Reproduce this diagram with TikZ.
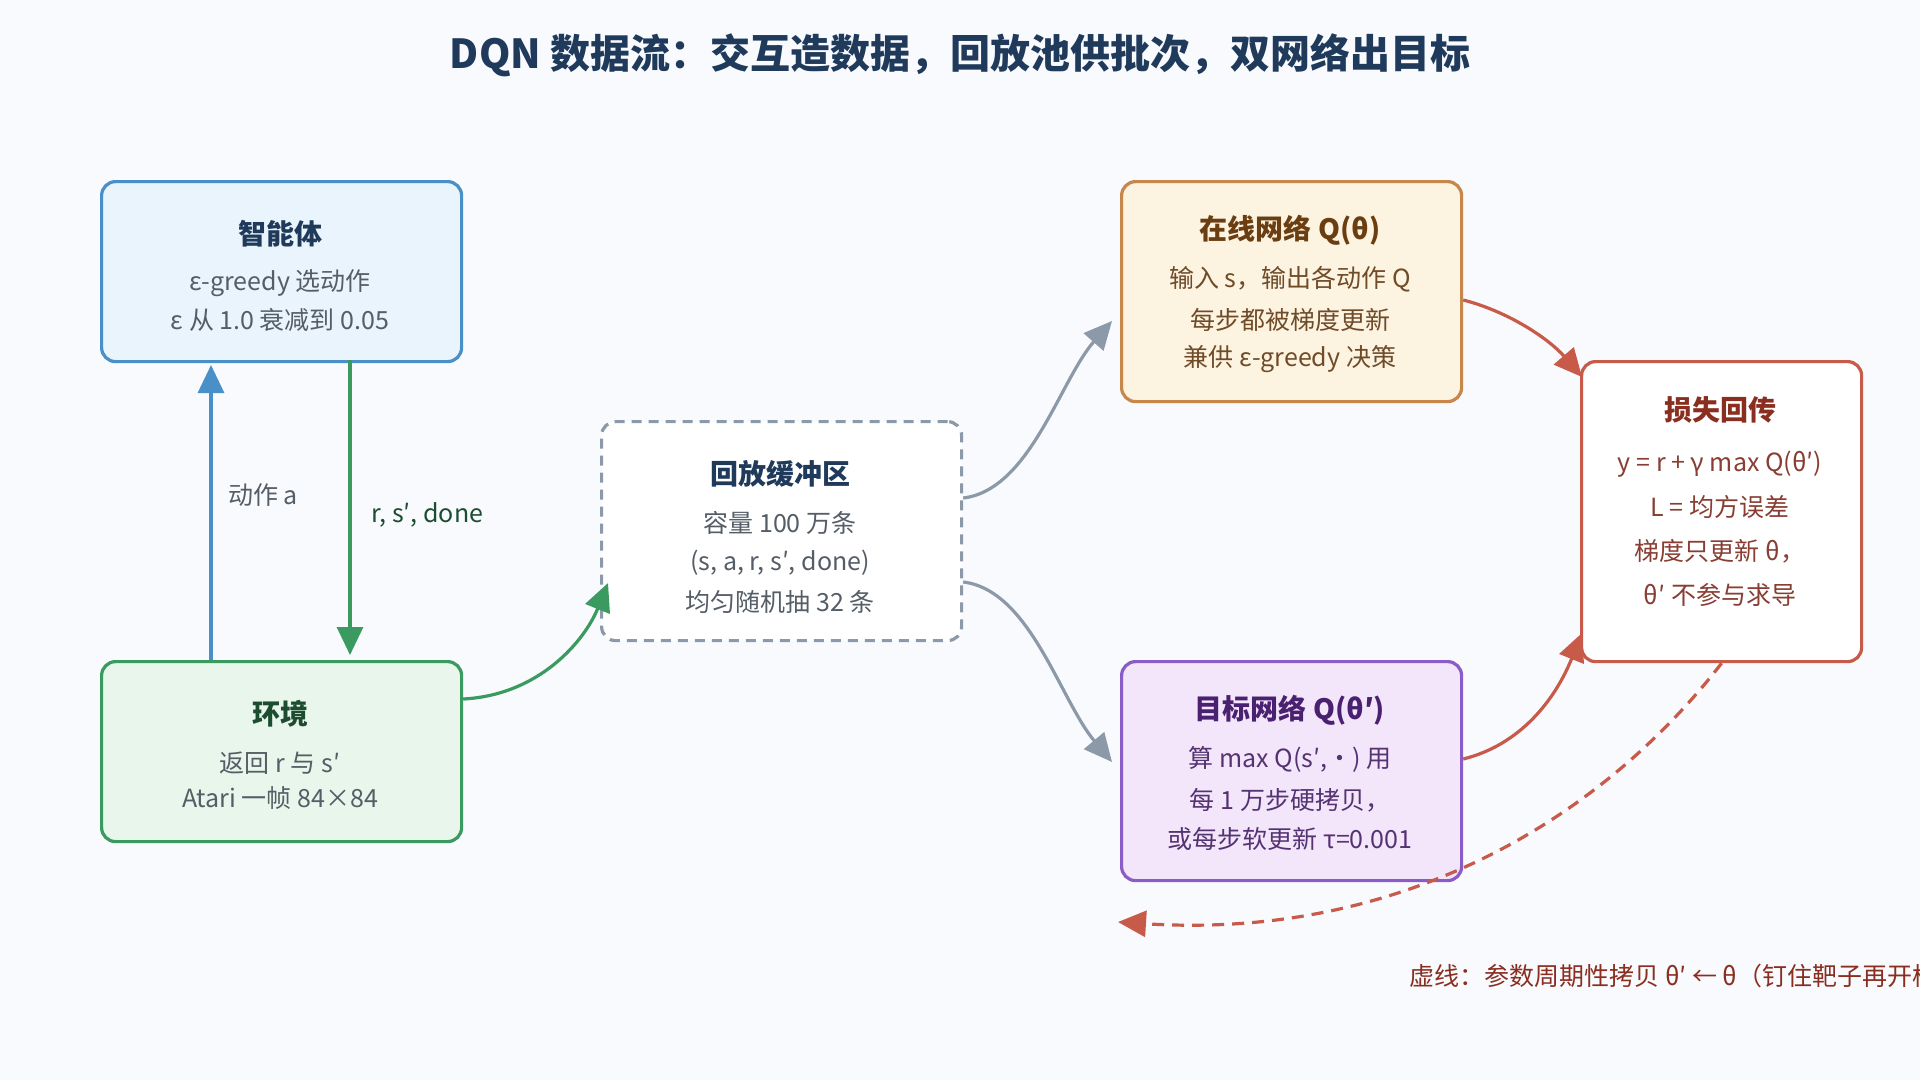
\documentclass[tikz,border=0pt]{standalone}
\usepackage{fontspec}
\setmainfont{Noto Sans CJK SC}
\usetikzlibrary{arrows.meta}
\definecolor{bg}{HTML}{F8FAFE}
\definecolor{ttl}{HTML}{1F3A5A}
\definecolor{agB}{HTML}{4A90C8}\definecolor{agF}{HTML}{EAF4FC}
\definecolor{enB}{HTML}{3A9A60}\definecolor{enF}{HTML}{E8F6EC}
\definecolor{rpB}{HTML}{8C99A8}
\definecolor{onB}{HTML}{C8874A}\definecolor{onF}{HTML}{FDF3E1}\definecolor{onT}{HTML}{6B3E12}
\definecolor{tgB}{HTML}{8A5CC8}\definecolor{tgF}{HTML}{F3E6FB}\definecolor{tgT}{HTML}{4A2070}
\definecolor{lsB}{HTML}{C85A4A}\definecolor{lsT}{HTML}{8A2E20}
\definecolor{body}{HTML}{555D66}
\begin{document}
\begin{tikzpicture}[x=1pt,y=-1pt,
 box/.style={draw,line width=3.2pt,rounded corners=14pt,anchor=north west,inner sep=0pt},
 ht/.style={font=\bfseries\fontsize{28}{30}\selectfont},
 bt/.style={font=\fontsize{25}{28}\selectfont,text=body},
 arr/.style={line width=3.2pt,-{Triangle[length=28pt,width=26pt]}},
 gar/.style={arr,color=rpB},
 rar/.style={arr,color=lsB}]
\clip (0,0) rectangle (1920,1080);
\fill[bg] (0,0) rectangle (1920,1080);
\node[font=\bfseries\fontsize{40}{44}\selectfont,text=ttl] (title) at (960,55) {DQN 数据流：交互造数据，回放池供批次，双网络出目标};
% boxes
\node[box,draw=agB,fill=agF,minimum width=360pt,minimum height=180pt] (ag) at (100,180) {};
\node[box,draw=enB,fill=enF,minimum width=360pt,minimum height=180pt] (en) at (100,660) {};
\node[box,draw=rpB,fill=white,dashed,dash pattern=on 10pt off 7pt,minimum width=360pt,minimum height=219pt] (rp) at (600,420) {};
\node[box,draw=onB,fill=onF,minimum width=340pt,minimum height=220pt] (on) at (1120,180) {};
\node[box,draw=tgB,fill=tgF,minimum width=340pt,minimum height=219pt] (tg) at (1120,660) {};
\node[box,draw=lsB,fill=white,minimum width=280pt,minimum height=300pt] (ls) at (1580,360) {};
% texts
\node[ht,text=ttl] (agt) at (280,234) {智能体};
\node[bt] (ag1) at (280,283) {ε-greedy 选动作};
\node[bt] (ag2) at (280,320) {ε 从 1.0 衰减到 0.05};
\node[ht,text=enB!50!black] (ent) at (280,714) {环境};
\node[bt] (en1) at (280,763) {返回 r 与 s′};
\node[bt] (en2) at (280,798) {Atari 一帧 84×84};
\node[ht,text=ttl] (rpt) at (780,474) {回放缓冲区};
\node[bt] (rp1) at (780,523) {容量 100 万条};
\node[bt] (rp2) at (780,563) {(s, a, r, s′, done)};
\node[bt] (rp3) at (780,602) {均匀随机抽 32 条};
\node[ht,text=onT] (ont) at (1290,230) {在线网络 Q(θ)};
\node[bt,text=onT!80!gray] (on1) at (1290,279) {输入 s，输出各动作 Q};
\node[bt,text=onT!80!gray] (on2) at (1290,320) {每步都被梯度更新};
\node[bt,text=onT!80!gray] (on3) at (1290,359) {兼供 ε-greedy 决策};
\node[ht,text=tgT] (tgt) at (1290,710) {目标网络 Q(θ′)};
\node[bt,text=tgT!80!gray] (tg1) at (1290,759) {算 max Q(s′,·) 用};
\node[bt,text=tgT!80!gray] (tg2) at (1290,800) {每 1 万步硬拷贝，};
\node[bt,text=tgT!80!gray] (tg3) at (1290,839) {或每步软更新 τ=0.001};
\node[ht,text=lsT] (lst) at (1720,410) {损失回传};
\node[bt,text=lsT!80!gray] (ls1) at (1720,464) {y = r + γ max Q(θ′)};
\node[bt,text=lsT!80!gray] (ls2) at (1720,507) {L = 均方误差};
\node[bt,text=lsT!80!gray] (ls3) at (1720,551) {梯度只更新 θ，};
\node[bt,text=lsT!80!gray] (ls4) at (1720,595) {θ′ 不参与求导};
% connectors
\coordinate (a1) at (211,660); \coordinate (a2) at (211,365);
\draw[arr,color=agB] (a1) -- (a2);
\node[bt] (la) at (263,495) {动作 a};
\coordinate (b1) at (350,360); \coordinate (b2) at (350,655);
\draw[arr,color=enB] (b1) -- (b2);
\node[bt,text=enB!50!black,anchor=west] (lb) at (368,515) {r, s′, done};
\draw[arr,color=enB] (en.east|-0,699) .. controls (540,695) and (585,640) .. (608,583);
\draw[gar] (rp.east|-0,498) .. controls (1030,490) and (1060,380) .. (1112,321);
\draw[gar] (rp.east|-0,582) .. controls (1030,590) and (1060,700) .. (1112,762);
\draw[rar] (on.east|-0,300) .. controls (1510,312) and (1550,340) .. (1582,377);
\draw[rar] (tg.east|-0,759) .. controls (1520,745) and (1555,700) .. (1582,633);
\coordinate (d2) at (1118,922);
\draw[lsB,line width=3.2pt,dash pattern=on 12pt off 8pt,-{Triangle[length=28pt,width=26pt]}] (ls.south) .. controls (1600,820) and (1400,940) .. (d2);
\node[font=\fontsize{25}{28}\selectfont,text=lsT,anchor=west] (note) at (1406,976) {虚线：参数周期性拷贝 θ′ ← θ（钉住靶子再开枪）};
\end{tikzpicture}
\end{document}
